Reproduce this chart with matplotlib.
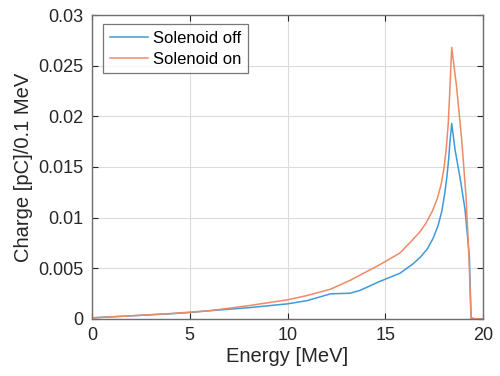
import numpy as np
import matplotlib.pyplot as plt

# energy grid points (MeV)
energy_off = [0, 2, 4, 5, 6, 8, 10, 11, 12.2, 12.7, 13.2, 13.7, 14.7, 15.75, 16.4, 16.8, 17.15,
              17.46, 17.7, 17.89, 18.02, 18.14, 18.24, 18.31, 18.36, 18.40, 18.57, 18.82, 19.08,
              19.30, 19.39, 19.6, 20]
charge_off = [0.0001, 0.0003, 0.0005, 0.00063, 0.0008, 0.0011, 0.00148, 0.0018, 0.00247, 0.0025,
              0.00253, 0.0028, 0.00368, 0.0045, 0.0054, 0.0061, 0.0069,
              0.0080, 0.0092, 0.0106, 0.0121, 0.0138, 0.0157, 0.0175, 0.0185, 0.0193, 0.0167,
              0.0140, 0.0108, 0.0062, 0.0001, 0, 0]

energy_on = [0, 2, 4, 5, 6, 8, 10, 11, 12.2, 13.2, 14.7, 15.75, 16.3, 16.78, 17.1, 17.4, 17.65,
             17.85, 18.0, 18.12, 18.22, 18.28, 18.34, 18.40, 18.65, 18.91, 19.13, 19.28, 19.39,
             19.6, 20]
charge_on = [0.0001, 0.0003, 0.00052, 0.00066, 0.0008, 0.0013, 0.00188, 0.0023, 0.00293, 0.0038,
             0.00533, 0.0065, 0.0076, 0.0086, 0.0095, 0.0106, 0.0118,
             0.0132, 0.0148, 0.0168, 0.0192, 0.0216, 0.0242, 0.0268, 0.0229, 0.0177, 0.0121,
             0.0062, 0, 0, 0]

plt.rcParams['font.family'] = ['Liberation Sans', 'DejaVu Sans']

fig = plt.figure(figsize=(5, 3.76), dpi=100)
ax = fig.add_axes([0.184, 0.152, 0.782, 0.808])

ax.plot(energy_off, charge_off, color='#3f9bd8', lw=1.1, label='Solenoid off')
ax.plot(energy_on, charge_on, color='#ef8a66', lw=1.1, label='Solenoid on')

ax.set_xlim(0, 20)
ax.set_ylim(0, 0.03)
ax.set_xticks([0, 5, 10, 15, 20])
ax.set_yticks([0, 0.005, 0.01, 0.015, 0.02, 0.025, 0.03])
ax.set_yticklabels(['0', '0.005', '0.01', '0.015', '0.02', '0.025', '0.03'])
ax.grid(True, color='#dcdcdc', lw=0.8)
ax.set_axisbelow(True)
ax.tick_params(direction='in', top=True, right=True, labelsize=13, colors='#262626',
               length=4, width=0.8, pad=6)
for s in ax.spines.values():
    s.set_color('#6e6e6e')
    s.set_linewidth(1.0)

ax.set_xlabel('Energy [MeV]', fontsize=14.5, color='#262626', labelpad=2)
ax.set_ylabel('Charge [pC]/0.1 MeV', fontsize=14.5, color='#262626', labelpad=4)

leg = ax.legend(loc='upper left', fontsize=12, frameon=True, fancybox=False,
                handlelength=2.3, handletextpad=0.3, borderpad=0.4, labelspacing=0.35,
                bbox_to_anchor=(0.028, 0.97), borderaxespad=0)
leg.get_frame().set_edgecolor('#555555')
leg.get_frame().set_linewidth(0.9)

fig.savefig('out.png', dpi=100)
